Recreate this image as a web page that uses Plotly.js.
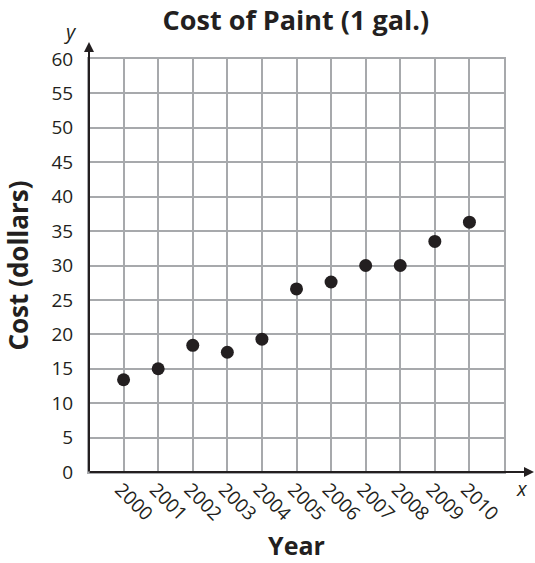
<!DOCTYPE html>
<html>
<head>
<meta charset="utf-8">
<script src="https://cdn.plot.ly/plotly-3.0.1.min.js"></script>
<style>html,body{margin:0;padding:0;background:#fff;}#chart{width:535px;height:563px;}</style>
</head>
<body>
<div id="chart"></div>
<script>
const years = [2000, 2001, 2002, 2003, 2004, 2005, 2006, 2007, 2008, 2009, 2010];
const costs = [13.4, 15, 18.4, 17.4, 19.3, 26.6, 27.6, 30, 30, 33.5, 36.3];
const yearLabels = years.map(String);
const titleText = 'Cost of Paint (1 gal.)';
const xTitle = 'Year';
const yTitle = 'Cost (dollars)';

const font = '"Open Sans", "DejaVu Sans", sans-serif';
const gridColor = '#a7a9ac';
const ink = '#231f20';

const trace = {
  x: years,
  y: costs,
  type: 'scatter',
  mode: 'markers',
  marker: {color: ink, size: 13},
  hoverinfo: 'x+y'
};

const layout = {
  width: 535,
  height: 563,
  margin: {l: 89, r: 31, t: 59, b: 91},
  paper_bgcolor: '#fff',
  plot_bgcolor: '#fff',
  showlegend: false,
  title: {text: '<b>' + titleText + '</b>', x: 0.553, xanchor: 'center', y: 0.963, yanchor: 'middle',
          font: {family: font, size: 27, color: ink}},
  xaxis: {
    range: [1999, 2011],
    tickvals: years,
    ticktext: yearLabels,
    tickangle: 45,
    showgrid: true, gridcolor: gridColor, gridwidth: 2,
    zeroline: false, showline: true, linecolor: gridColor, linewidth: 2, mirror: true,
    ticks: '', ticklabelstandoff: -3, ticklabelshift: -3,
    tickfont: {family: font, size: 19, color: ink},
    title: {text: '<b>' + xTitle + '</b>', standoff: 12, font: {family: font, size: 25, color: ink}}
  },
  yaxis: {
    range: [0, 60],
    tick0: 0, dtick: 5,
    showgrid: true, gridcolor: gridColor, gridwidth: 2,
    zeroline: false, showline: true, linecolor: gridColor, linewidth: 2, mirror: true,
    ticks: '', ticklabelstandoff: 10,
    tickfont: {family: font, size: 19, color: ink},
    title: {text: '<b>' + yTitle + '</b>', standoff: 15, font: {family: font, size: 26, color: ink}}
  },
  annotations: [
    {xref: 'paper', yref: 'paper', x: 0, y: 1 + 17/413, ax: 0, ay: 431, axref: 'pixel', ayref: 'pixel',
     showarrow: true, arrowhead: 2, arrowsize: 1, arrowwidth: 2, arrowcolor: ink, text: ''},
    {xref: 'paper', yref: 'paper', x: 1 + 31/415, y: 0, ax: -447, ay: 0,
     showarrow: true, arrowhead: 2, arrowsize: 1, arrowwidth: 2, arrowcolor: ink, text: ''},
    {xref: 'paper', yref: 'paper', x: -19/415, y: 1 + 27/413, xanchor: 'center', yanchor: 'middle', showarrow: false,
     text: '<i>y</i>', font: {family: font, size: 20, color: ink}},
    {xref: 'paper', yref: 'paper', x: 1 + 18/415, y: -16/413, xanchor: 'center', yanchor: 'middle', showarrow: false,
     text: '<i>x</i>', font: {family: font, size: 20, color: ink}}
  ]
};

Plotly.newPlot('chart', [trace], layout, {displayModeBar: false, staticPlot: true});
</script>
</body>
</html>
